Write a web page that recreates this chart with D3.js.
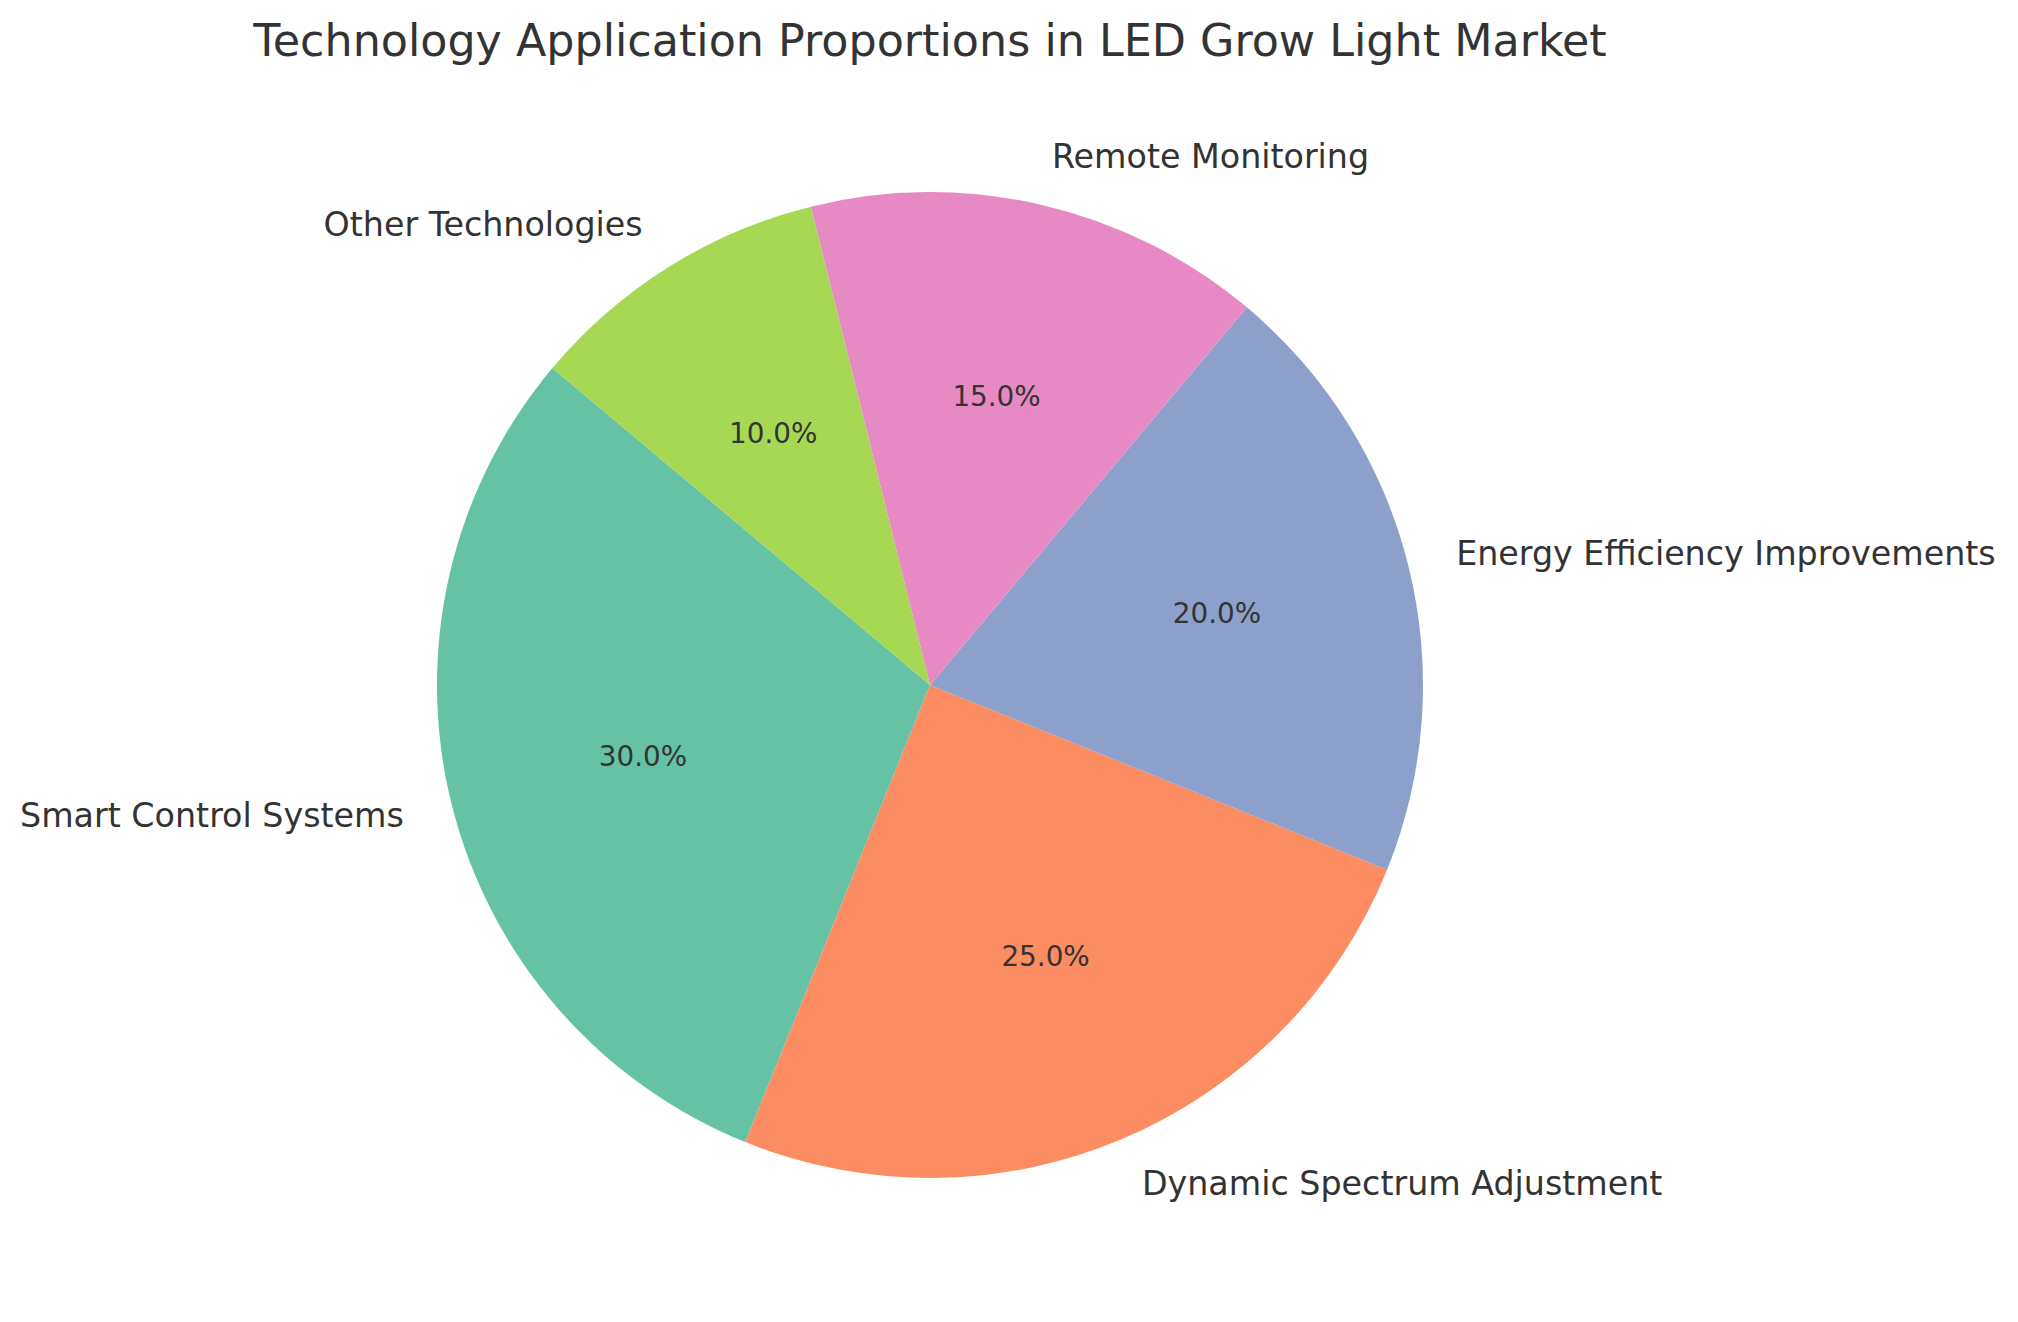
<!DOCTYPE html>
<html><head><meta charset="utf-8">
<script src="https://cdn.jsdelivr.net/npm/d3@7"></script>
<style>html,body{margin:0;padding:0;background:#fff;}svg{display:block;}</style>
</head><body>
<script>
const categories = ["Smart Control Systems","Dynamic Spectrum Adjustment","Energy Efficiency Improvements","Remote Monitoring","Other Technologies"];
const values = [30, 25, 20, 15, 10];
const colors = ["#66c2a5","#fc8d62","#8da0cb","#e78ac3","#a6d854"];
const title = "Technology Application Proportions in LED Grow Light Market";

const W = 2018, H = 1322;
const cx = 930, cy = 685, R = 493;
const font = "'DejaVu Sans', sans-serif";
const textColor = "#333333";

const svg = d3.select("body").append("svg").attr("width", W).attr("height", H);
svg.append("rect").attr("width", W).attr("height", H).attr("fill", "#fff");

svg.append("text").attr("x", cx).attr("y", 40).attr("text-anchor", "middle")
  .attr("dominant-baseline", "central")
  .style("font-family", font).style("font-size", "44.4px").attr("fill", textColor).text(title);

const startDeg = 140;
const a0 = Math.PI/2 - startDeg*Math.PI/180;
const pie = d3.pie().sort(null).startAngle(a0).endAngle(a0 - 2*Math.PI);
const arcs = pie(values);
const arc = d3.arc().innerRadius(0).outerRadius(R);
const total = d3.sum(values);

const g = svg.append("g").attr("transform", `translate(${cx},${cy})`);
g.selectAll("path.slice").data(arcs).join("path").attr("class","slice")
  .attr("d", arc).attr("fill", (d,i) => colors[i]);

arcs.forEach((d,i) => {
  const mid = (d.startAngle + d.endAngle)/2;
  const sx = Math.sin(mid), sy = -Math.cos(mid);
  g.append("text").attr("x", sx*R*1.1).attr("y", sy*R*1.1)
    .attr("text-anchor", sx > 0 ? "start" : "end").attr("dy", "0.33em")
    .style("font-family", font).style("font-size", "33.3px").attr("fill", textColor)
    .text(categories[i]);
  g.append("text").attr("x", sx*R*0.6).attr("y", sy*R*0.6)
    .attr("text-anchor", "middle").attr("dy", "0.33em")
    .style("font-family", font).style("font-size", "27.8px").attr("fill", textColor)
    .text((values[i]/total*100).toFixed(1) + "%");
});
</script>
</body></html>
